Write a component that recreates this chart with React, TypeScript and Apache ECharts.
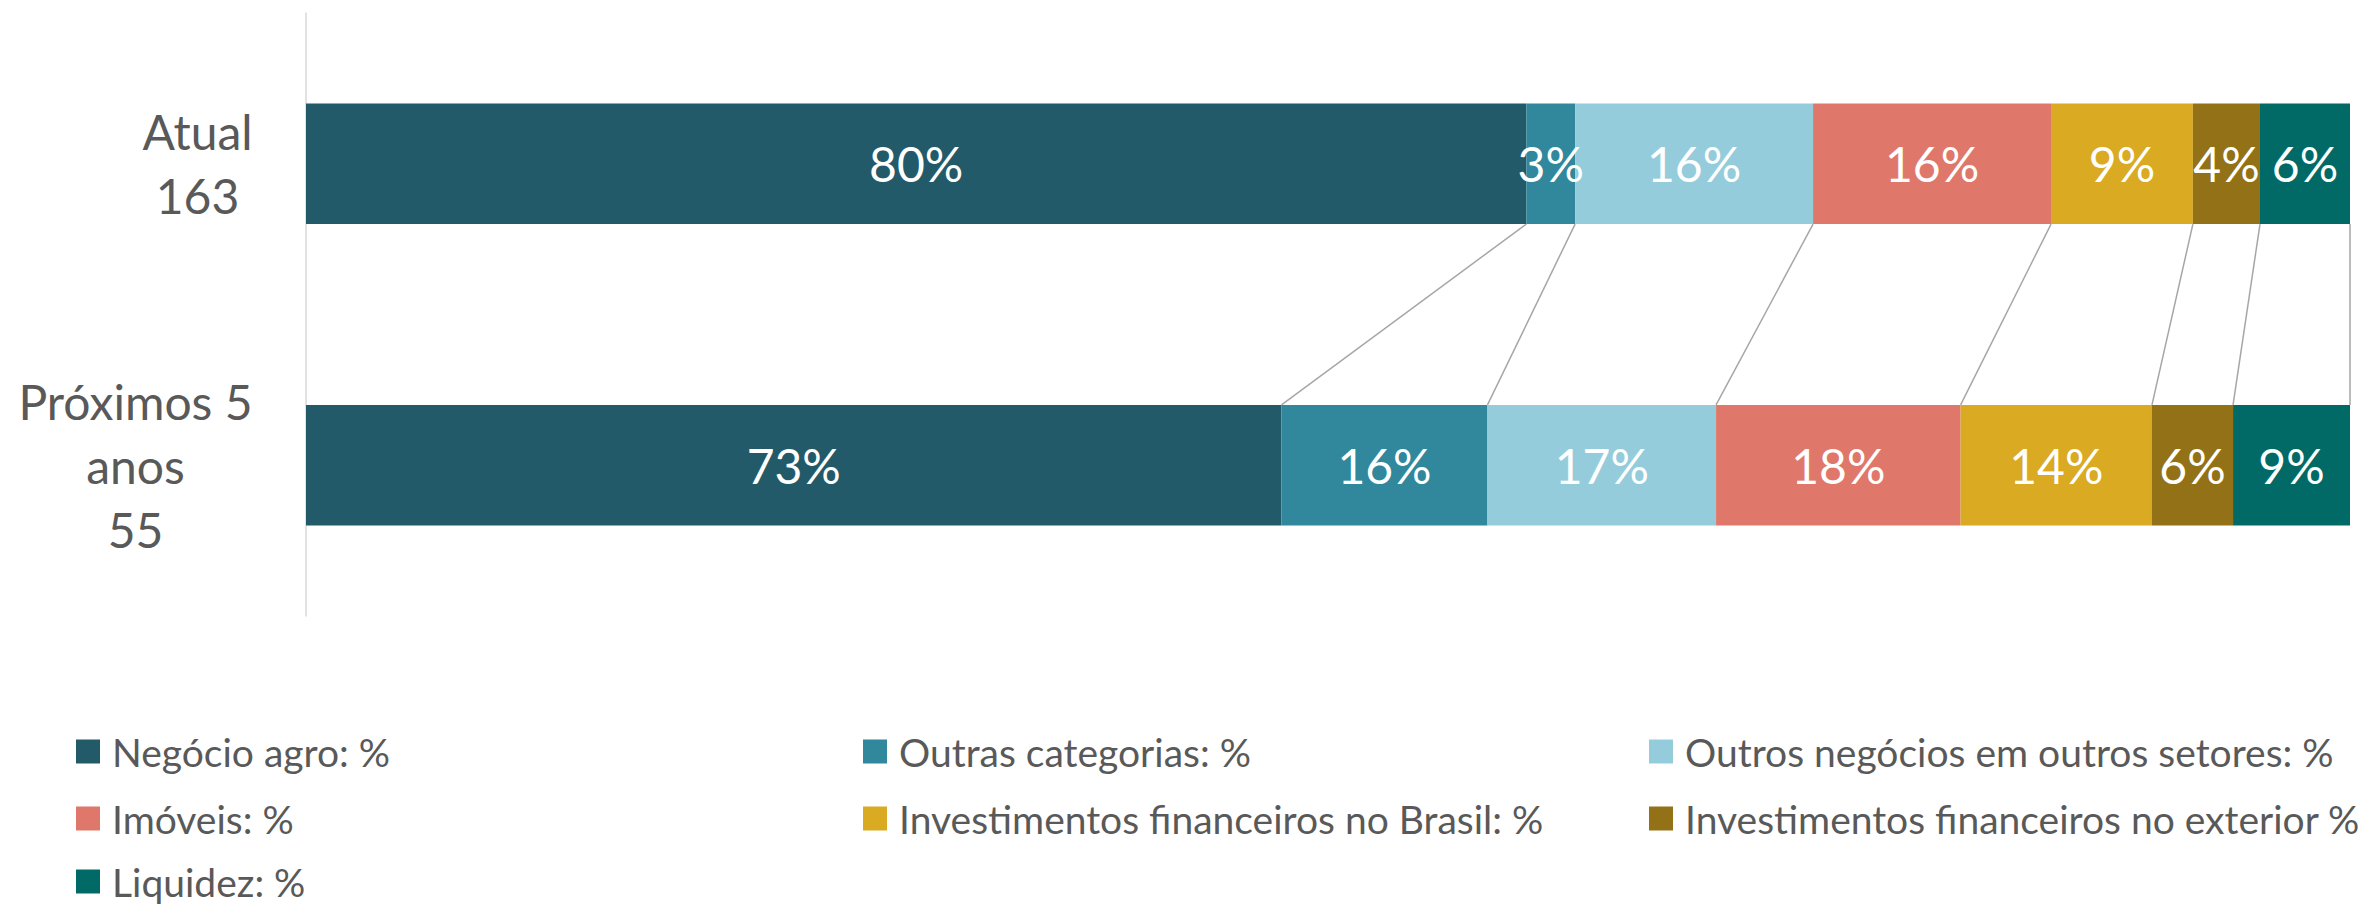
import React, { useEffect, useRef } from "react";
import * as echarts from "echarts";

const categories = ["Atual", "Próximos 5\nanos"];
const respondents = ["163", "55"];

const seriesNames = [
  "Negócio agro: %",
  "Outras categorias: %",
  "Outros negócios em outros setores: %",
  "Imóveis: %",
  "Investimentos financeiros no Brasil: %",
  "Investimentos financeiros no exterior %",
  "Liquidez: %",
];
// values; labels show them rounded
const negocioAgro = [80, 73.4];
const outrasCategorias = [3.2, 15.5];
const outrosNegocios = [15.6, 17.2];
const imoveis = [15.6, 18.4];
const invBrasil = [9.3, 14.4];
const invExterior = [4.4, 6.1];
const liquidez = [5.9, 8.8];
const seriesValues = [negocioAgro, outrasCategorias, outrosNegocios, imoveis, invBrasil, invExterior, liquidez];
const colors = ["#235a69", "#31879c", "#95ccdc", "#df786a", "#d9aa22", "#937116", "#016a66"];

// legend grid: [column, row] for each series
const legendCells = [
  [0, 0],
  [1, 0],
  [2, 0],
  [0, 1],
  [1, 1],
  [2, 1],
  [0, 2],
];
const legendColLeft = [76, 863, 1649];
const legendRowCenter = [748, 815, 878];

const FONT = "Lato, 'Noto Sans', sans-serif";
const LABEL_SIZE = 48;
const LEGEND_SIZE = 39;

function measure(text: string, size: number): number {
  const c = document.createElement("canvas").getContext("2d");
  if (!c) return text.length * size * 0.5;
  c.font = `${size}px Lato`;
  return c.measureText(text).width;
}

export default function App() {
  const ref = useRef<HTMLDivElement>(null);
  useEffect(() => {
    if (!ref.current) return;
    const chart = echarts.init(ref.current, undefined, { renderer: "svg" });

    const totals = categories.map((_, ci) => seriesValues.reduce((s, arr) => s + arr[ci], 0));
    const shares = seriesValues.map((arr) => arr.map((v, ci) => (v / totals[ci]) * 100));

    const boundaries: number[][] = [];
    let c0 = 0;
    let c1 = 0;
    shares.forEach((s) => {
      c0 += s[0];
      c1 += s[1];
      boundaries.push([c0, c1, 0]);
    });

    const labelLines = categories.map((c, i) => (c + "\n" + respondents[i]).split("\n"));
    const rich: any = {};
    labelLines.forEach((lines, i) => {
      const w = Math.max(...lines.map((l) => measure(l, LABEL_SIZE)));
      rich["c" + i] = {
        width: Math.ceil(w) + 2,
        align: "center",
        fontSize: LABEL_SIZE,
        lineHeight: 64,
        color: "#595959",
        fontFamily: FONT,
      };
    });

    const barSeries = seriesNames.map((name, si) => ({
      name,
      type: "bar",
      stack: "total",
      barWidth: "40%",
      data: shares[si],
      itemStyle: { color: colors[si] },
      emphasis: { disabled: true },
      label: {
        show: true,
        position: "inside",
        color: "#ffffff",
        fontSize: LABEL_SIZE,
        fontFamily: FONT,
        formatter: (p: any) => Math.round(seriesValues[si][p.dataIndex]) + "%",
      },
    }));

    const option: any = {
      animation: false,
      backgroundColor: "#ffffff",
      grid: { left: 306, right: 27, top: 13, height: 603, containLabel: false, outerBoundsMode: "none" },
      xAxis: { type: "value", min: 0, max: 100, show: false },
      yAxis: {
        type: "category",
        data: categories,
        inverse: true,
        axisLine: { show: true, lineStyle: { color: "#d9d9d9", width: 1.5 } },
        axisTick: { show: false },
        splitLine: { show: false },
        axisLabel: {
          margin: 52,
          align: "right",
          formatter: (_v: string, idx: number) => labelLines[idx].map((l) => `{c${idx}|${l}}`).join("\n"),
          rich,
        },
      },
      legend: seriesNames.map((name, si) => ({
        orient: "horizontal",
        left: legendColLeft[legendCells[si][0]],
        top: legendRowCenter[legendCells[si][1]] - 16,
        padding: 0,
        itemWidth: 24,
        itemHeight: 24,
        icon: "rect",
        selectedMode: false,
        data: [name],
        textStyle: {
          fontSize: LEGEND_SIZE,
          fontFamily: FONT,
          color: "#595959",
          lineHeight: 32,
          padding: [0, 0, 0, 7],
        },
      })),
      series: [
        ...barSeries,
        {
          type: "custom",
          name: "connectors",
          silent: true,
          encode: { x: [0, 1], y: 2 },
          data: boundaries,
          renderItem: (_params: any, api: any) => {
            const x1 = api.value(0);
            const x2 = api.value(1);
            const p1 = api.coord([x1, 0]);
            const p2 = api.coord([x2, 1]);
            const band = api.size([0, 1])[1];
            const half = (band * 0.4) / 2;
            return {
              type: "line",
              shape: { x1: p1[0], y1: p1[1] + half, x2: p2[0], y2: p2[1] - half },
              style: { stroke: "#a6a6a6", lineWidth: 1.5 },
            };
          },
          z: 1,
        },
      ],
    };
    chart.setOption(option);
    return () => chart.dispose();
  }, []);

  return <div ref={ref} style={{ position: "fixed", left: 0, top: 0, width: 2377, height: 904 }} />;
}
